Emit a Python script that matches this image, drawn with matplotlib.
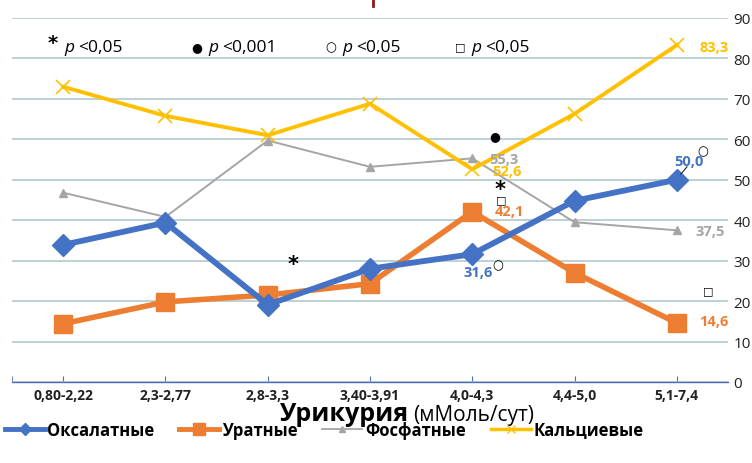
import matplotlib
matplotlib.use('Agg')
import matplotlib.pyplot as plt
from matplotlib.lines import Line2D

plt.rcParams['font.family'] = ['Open Sans', 'DejaVu Sans']

categories = ['0,80-2,22', '2,3-2,77', '2,8-3,3', '3,40-3,91', '4,0-4,3', '4,4-5,0', '5,1-7,4']
oxalate = [33.9, 39.4, 19.1, 28.0, 31.6, 44.8, 50.0]
urate = [14.4, 19.8, 21.5, 24.3, 42.1, 27.0, 14.6]
phosphate = [46.8, 40.8, 59.7, 53.2, 55.3, 39.5, 37.5]
calcium = [73.0, 65.8, 61.0, 68.8, 52.6, 66.3, 83.3]
series_names = ['Оксалатные', 'Уратные', 'Фосфатные', 'Кальциевые']

# significance marks: (x in category units, y value, symbol)
sig_marks = [(2.25, 29.2, '*'), (4.27, 47.8, '*'), (4.22, 60.9, '●'),
             (4.28, 45.3, '□'), (4.25, 29.0, '○'), (6.25, 57.2, '○'),
             (6.31, 22.8, '□')]
sig_legend = [('*', -0.1), ('●', 1.31), ('○', 2.62), ('□', 3.88)]
sig_text = ['<0,05', '<0,001', '<0,05', '<0,05']

blue = '#4472C4'
orange = '#ED7D31'
gray = '#A5A5A5'
yellow = '#FFC000'

fig = plt.figure(figsize=(7.52, 4.64), dpi=100)
ax = fig.add_axes([0.016, 0.1746, 0.952, 0.7845])
x = range(len(categories))

ax.plot(x, phosphate, color=gray, lw=1.4, marker='^', ms=6, zorder=3)
ax.plot(x, calcium, color=yellow, lw=2.8, marker='x', ms=10, mew=1.2, zorder=3)
ax.plot(x, urate, color=orange, lw=4.0, marker='s', ms=13, zorder=4)
ax.plot(x, oxalate, color=blue, lw=4.2, marker='D', ms=11, zorder=5)

ax.set_xlim(-0.5, 6.5)
ax.set_ylim(0, 90)
ax.set_yticks(range(0, 91, 10))
ax.yaxis.tick_right()
ax.grid(axis='y', color='#B4C7D0', lw=1.2)
ax.set_axisbelow(True)
for s in ['top', 'left', 'right']:
    ax.spines[s].set_visible(False)
ax.spines['bottom'].set_color('#4F6FB5')
ax.spines['bottom'].set_linewidth(1.0)
ax.tick_params(axis='y', length=0, pad=4, labelsize=11, labelcolor='#222222')
ax.set_xticks([-0.5], minor=True)
ax.set_xticks(list(x))
ax.set_xticklabels(categories, fontsize=10, fontweight='bold', color='#222222')
ax.tick_params(axis='x', which='both', length=4, color='#4F6FB5', direction='in', pad=4)

# data labels
ax.text(6.12, 54.7, '50,0', color=blue, fontsize=10.5, fontweight='bold', ha='center', va='center')
ax.plot([6.04, 6.1], [51.4, 53.2], color='#222222', lw=0.8, zorder=6)
ax.text(4.06, 27.2, '31,6', color=blue, fontsize=10.5, fontweight='bold', ha='center', va='center')
ax.text(4.22, 42.3, '42,1', color=orange, fontsize=10.5, fontweight='bold', ha='left', va='center')
ax.text(6.22, 15.0, '14,6', color=orange, fontsize=10.5, fontweight='bold', ha='left', va='center')
ax.text(4.17, 55.2, '55,3', color=gray, fontsize=10.5, fontweight='bold', ha='left', va='center')
ax.text(4.2, 52.2, '52,6', color=yellow, fontsize=10.5, fontweight='bold', ha='left', va='center')
ax.text(6.18, 37.4, '37,5', color=gray, fontsize=10.5, fontweight='bold', ha='left', va='center')
ax.text(6.22, 82.9, '83,3', color=yellow, fontsize=10.5, fontweight='bold', ha='left', va='center')

for mx, my, sym in sig_marks:
    if sym == '*':
        ax.text(mx, my, sym, fontsize=15, fontweight='bold', ha='center', va='center',
                family=['DejaVu Sans'])
    else:
        ax.text(mx, my, sym, fontsize=8 if sym == '□' else 9, ha='center', va='center',
                family=['DejaVu Sans'])

# significance legend row at the top
for (sym, lx), txt in zip(sig_legend, sig_text):
    if sym == '*':
        ax.text(lx, 84.0, sym, fontsize=14, fontweight='bold', ha='center', va='center', family=['DejaVu Sans'])
    else:
        ax.text(lx, 82.9, sym, fontsize=8 if sym == '□' else 9, ha='center', va='center', family=['DejaVu Sans'])
    ax.text(lx + 0.11, 82.9, 'p', fontsize=12.5, style='italic', ha='left', va='center')
    ax.text(lx + 0.245, 82.9, txt, fontsize=12.5, ha='left', va='center')

# axis title
fig.text(0.5435, 0.093, 'Урикурия', fontsize=18, fontweight='bold', ha='right', va='baseline')
fig.text(0.549, 0.093, '(мМоль/сут)', fontsize=15, ha='left', va='baseline')

handles = [Line2D([], [], color=blue, lw=3.5, marker='D', ms=6),
           Line2D([], [], color=orange, lw=3.5, marker='s', ms=8),
           Line2D([], [], color=gray, lw=1.3, marker='^', ms=5),
           Line2D([], [], color=yellow, lw=2.5, marker='x', ms=6)]
leg = fig.legend(handles, series_names, loc='center left', bbox_to_anchor=(0.006, 0.072),
                 ncol=4, frameon=False, handlelength=2.4, handletextpad=0.15, columnspacing=1.5,
                 borderpad=0, borderaxespad=0, prop={'weight': 'bold', 'size': 12})

# small dark red mark at the top edge
fig.add_artist(Line2D([0.496, 0.496], [0.985, 1.0], color='#8B1A1A', lw=2, transform=fig.transFigure))

fig.savefig('out.png', dpi=100, facecolor='white')
